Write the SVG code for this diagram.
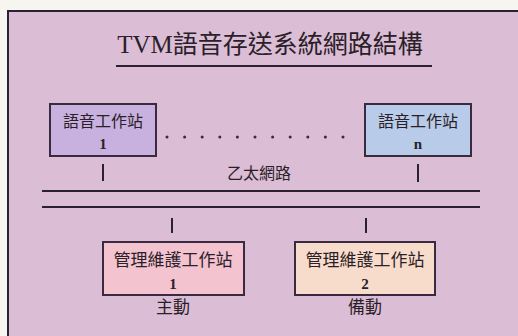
<svg xmlns="http://www.w3.org/2000/svg" width="518" height="336" viewBox="0 0 518 336">
<style>
.box{stroke:#3a2a40;stroke-width:2}
.t{font-family:"Liberation Serif","Noto Sans CJK TC",serif;fill:#2a2028;text-anchor:middle}
.c{font-family:"Noto Sans CJK TC",sans-serif;fill:#2a2028;text-anchor:middle}
.ln{stroke:#2a2030;stroke-width:2}
.dot{fill:#3a2a40}
</style>
<rect width="518" height="336" fill="#f6f5ef"/>
<rect x="8" y="11" width="512" height="330" fill="#dbbdd6"/>
<path d="M8 336 V11 H518" fill="none" stroke="#2a2038" stroke-width="2"/>
<g id="title">
<text class="c" x="270" y="53" font-size="25"><tspan font-family="Liberation Serif,serif">TVM</tspan>語音存送系統網路結構</text>
<line class="ln" x1="116" y1="66" x2="432" y2="66"/>
</g>
<g id="vs1">
<rect class="box" x="50" y="104" width="106" height="52" fill="#c9b1df"/>
<text class="c" x="103" y="127" font-size="16">語音工作站</text>
<text class="t" x="103" y="149" font-size="15" font-weight="bold">1</text>
</g>
<g id="vsn">
<rect class="box" x="365" y="104" width="106" height="52" fill="#b8cbe8"/>
<text class="c" x="418" y="127" font-size="16">語音工作站</text>
<text class="t" x="418" y="149" font-size="15" font-weight="bold">n</text>
</g>
<g id="dots">
<circle class="dot" cx="167" cy="137" r="1.5"/><circle class="dot" cx="184.6" cy="137" r="1.5"/><circle class="dot" cx="202.2" cy="137" r="1.5"/><circle class="dot" cx="219.8" cy="137" r="1.5"/><circle class="dot" cx="237.4" cy="137" r="1.5"/><circle class="dot" cx="255" cy="137" r="1.5"/><circle class="dot" cx="272.6" cy="137" r="1.5"/><circle class="dot" cx="290.2" cy="137" r="1.5"/><circle class="dot" cx="307.8" cy="137" r="1.5"/><circle class="dot" cx="325.4" cy="137" r="1.5"/><circle class="dot" cx="343" cy="137" r="1.5"/>
</g>
<g id="ethernet">
<text class="c" x="259" y="179" font-size="16">乙太網路</text>
<line class="ln" x1="42" y1="191" x2="480" y2="191"/>
<line class="ln" x1="42" y1="207" x2="480" y2="207"/>
</g>
<g id="connectors">
<line class="ln" x1="103" y1="164" x2="103" y2="181"/>
<line class="ln" x1="418" y1="164" x2="418" y2="182"/>
<line class="ln" x1="172" y1="218" x2="172" y2="233"/>
<line class="ln" x1="366" y1="218" x2="366" y2="233"/>
</g>
<g id="mm1">
<rect class="box" x="103" y="242" width="141" height="53" fill="#f3c3d0"/>
<text class="c" x="173" y="266" font-size="17">管理維護工作站</text>
<text class="t" x="173" y="289" font-size="15" font-weight="bold">1</text>
<text class="c" x="173" y="313" font-size="17">主動</text>
</g>
<g id="mm2">
<rect class="box" x="295" y="242" width="140" height="53" fill="#f8dccb"/>
<text class="c" x="365" y="266" font-size="17">管理維護工作站</text>
<text class="t" x="365" y="289" font-size="15" font-weight="bold">2</text>
<text class="c" x="365" y="313" font-size="17">備動</text>
</g>
</svg>
